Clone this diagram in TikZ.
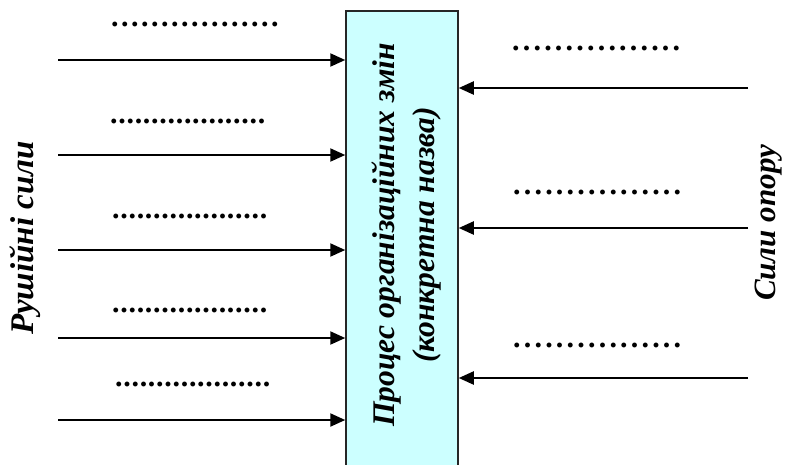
\documentclass[tikz,border=0pt]{standalone}
\usepackage{fontspec}
\setmainfont{Liberation Serif}
\usetikzlibrary{arrows.meta}
% a run of #1 full stops, each followed by a kern of #2
\newcommand\leaderdots[2]{\foreach \k in {1,...,#1}{.\kern#2}}
\begin{document}
\begin{tikzpicture}[x=1pt,y=-1pt,
  force/.style={line width=2.2pt,-{Triangle[length=15pt,width=13pt]}},
  blank/.style={font=\fontsize{30}{30}\selectfont\bfseries, anchor=base west, inner sep=0pt},
  side/.style={font=\fontsize{33}{33}\selectfont\bfseries\itshape, rotate=90, inner sep=0pt}]
\useasboundingbox (0,0) rectangle (790,464);

% central process box
\node[draw=black!85, line width=1.5pt, fill={rgb,255:red,204;green,255;blue,255},
      minimum width=112pt, minimum height=470pt, inner sep=0pt] (process) at (402,246) {};
\node[font=\fontsize{31.5}{40}\selectfont\bfseries\itshape, rotate=90, align=center, inner sep=0pt]
  (title) at (406,235) {Процес організаційних змін\\(конкретна назва)};

% side captions
\node[side] (drive) at (25,238) {Рушійні сили};
\node[side, font=\fontsize{31}{31}\selectfont\bfseries\itshape] (resist) at (769,223) {Сили опору};

% driving forces
\coordinate (d1) at (58,60);
\coordinate (d2) at (58,155);
\coordinate (d3) at (58,250);
\coordinate (d4) at (58,338);
\coordinate (d5) at (58,420);
\foreach \c in {d1,d2,d3,d4,d5}
  \draw[force] (\c) -- (\c -| process.west);

\node[blank] (dl1) at (111,26) {\leaderdots{17}{2.5pt}};
\node[blank] (dl2) at (110,123) {\leaderdots{19}{0.7pt}};
\node[blank] (dl3) at (112,218) {\leaderdots{19}{0.7pt}};
\node[blank] (dl4) at (112,312) {\leaderdots{19}{0.7pt}};
\node[blank] (dl5) at (115,386) {\leaderdots{19}{0.7pt}};

% resisting forces
\coordinate (r1) at (748,88);
\coordinate (r2) at (748,228);
\coordinate (r3) at (748,378);
\foreach \c in {r1,r2,r3}
  \draw[force] (\c) -- (\c -| process.east);

\node[blank] (rl1) at (512,50) {\leaderdots{16}{3.2pt}};
\node[blank] (rl2) at (513,194) {\leaderdots{16}{3.2pt}};
\node[blank] (rl3) at (513,347) {\leaderdots{16}{3.2pt}};
\end{tikzpicture}
\end{document}
